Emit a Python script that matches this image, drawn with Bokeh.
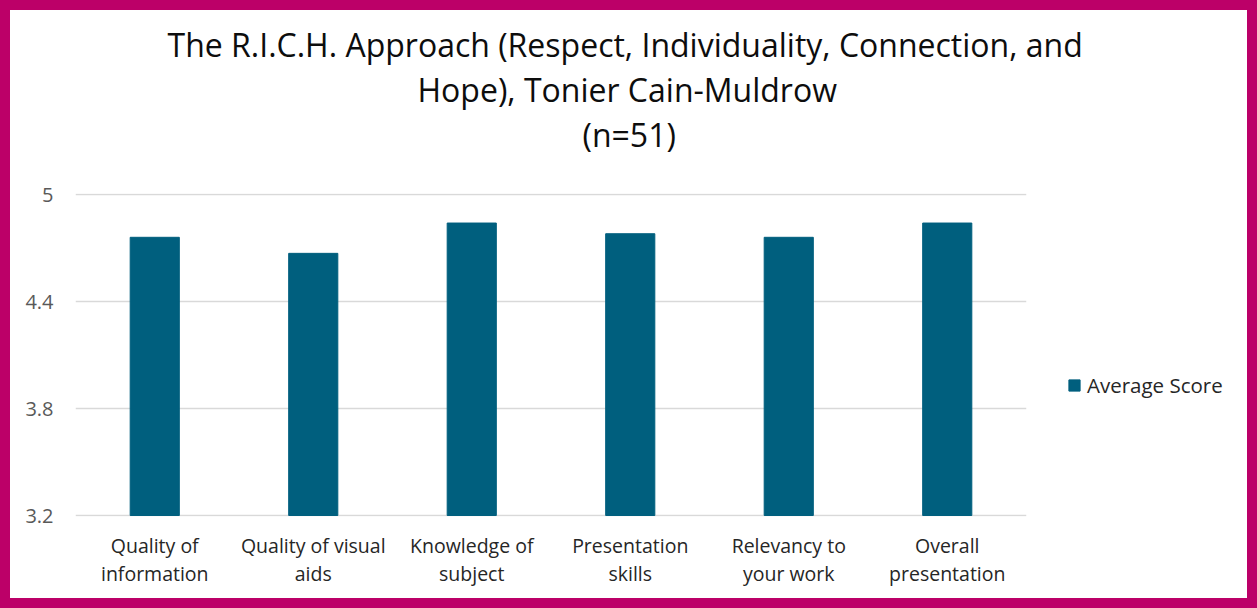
from bokeh.plotting import figure
from bokeh.models import (Range1d, FactorRange, FixedTicker, NumeralTickFormatter, CategoricalAxis,
                          Title, Legend, LegendItem, ColumnDataSource)
from bokeh.embed import file_html
from bokeh.resources import INLINE

# ---- data ----
categories = ["Quality of\ninformation", "Quality of visual\naids", "Knowledge of\nsubject",
              "Presentation\nskills", "Relevancy to\nyour work", "Overall\npresentation"]
scores = [4.76, 4.67, 4.84, 4.78, 4.76, 4.84]
y_ticks = [3.2, 3.8, 4.4, 5.0]
y_min, y_max = 3.2, 5.0
series_name = "Average Score"
title_lines = ["The R.I.C.H. Approach (Respect, Individuality, Connection, and",
               "Hope), Tonier Cain-Muldrow",
               "(n=51)"]

FONT = "Open Sans"
BAR = "#005F7E"
FRAME = "#BC0068"

src = ColumnDataSource(data=dict(cat=categories, score=scores))

pad = (y_max - y_min) / 321.0  # one pixel, so edge gridlines are not clipped
p = figure(frame_width=951, frame_height=323,
           x_range=FactorRange(*categories, range_padding=0),
           y_range=Range1d(y_min - pad, y_max + pad),
           output_backend="svg", toolbar_location=None, tools="",
           min_border_left=65, min_border_right=221,
           min_border_top=183, min_border_bottom=82)
p.background_fill_color = "white"
p.border_fill_color = "white"
p.outline_line_color = None

r = p.vbar(x="cat", top="score", bottom=y_min, width=0.31, source=src,
           fill_color=BAR, line_color=BAR)

# axes
p.yaxis.ticker = FixedTicker(ticks=y_ticks)
p.yaxis.formatter = NumeralTickFormatter(format="0.[0]")
p.yaxis.major_label_text_font = FONT
p.yaxis.major_label_text_font_size = "20px"
p.yaxis.major_label_text_color = "#595959"
p.yaxis.major_label_standoff = 16
p.yaxis.axis_line_color = None
p.yaxis.major_tick_line_color = None
p.yaxis.minor_tick_line_color = None

p.xaxis.major_label_text_font = FONT
p.xaxis.major_label_text_font_size = "19.5px"
p.xaxis.major_label_text_color = "#262626"
p.xaxis.major_label_text_line_height = 1.05
p.xaxis.major_label_standoff = 9
p.xaxis.axis_line_color = None
p.xaxis.major_tick_line_color = None
p.xaxis.minor_tick_line_color = None

p.xgrid.grid_line_color = None
p.ygrid.grid_line_color = "#D9D9D9"
p.ygrid.grid_line_width = 1.5

# empty spacer between plot area and the title block (no ticks; blank label gives the gap)
spacer = CategoricalAxis(ticker=FixedTicker(ticks=[]), axis_label=" ",
                         axis_label_standoff=33, axis_label_text_font_size="2px",
                         axis_line_color=None, major_tick_line_color=None,
                         minor_tick_line_color=None, major_tick_in=0, major_tick_out=0,
                         minor_tick_in=0, minor_tick_out=0, major_label_standoff=0)
p.add_layout(spacer, "above")

# title lines (first added = nearest to the plot)
left_offsets = [92, 342, 507]
for txt, off in reversed(list(zip(title_lines, left_offsets))):
    p.add_layout(Title(text=txt, align="left", offset=off, standoff=0,
                       text_font=FONT, text_font_size="32px",
                       text_font_style="normal", text_color="#0D0D0D"), "above")

legend = Legend(items=[LegendItem(label=series_name, renderers=[r])],
                location=(41, 117), padding=0, margin=0,
                glyph_width=14, glyph_height=14, label_standoff=6,
                label_text_font=FONT, label_text_font_size="20.5px",
                label_text_color="#262626",
                border_line_color=None, background_fill_alpha=0)
p.add_layout(legend, "right")

template = """
{% block postamble %}
<style>html { margin: 0; padding: 0; } body { margin: 0; padding: 0; border: 10px solid #BC0068; background: white; }</style>
{% endblock %}
"""

open("out.html", "w").write(file_html(p, INLINE, template=template))
